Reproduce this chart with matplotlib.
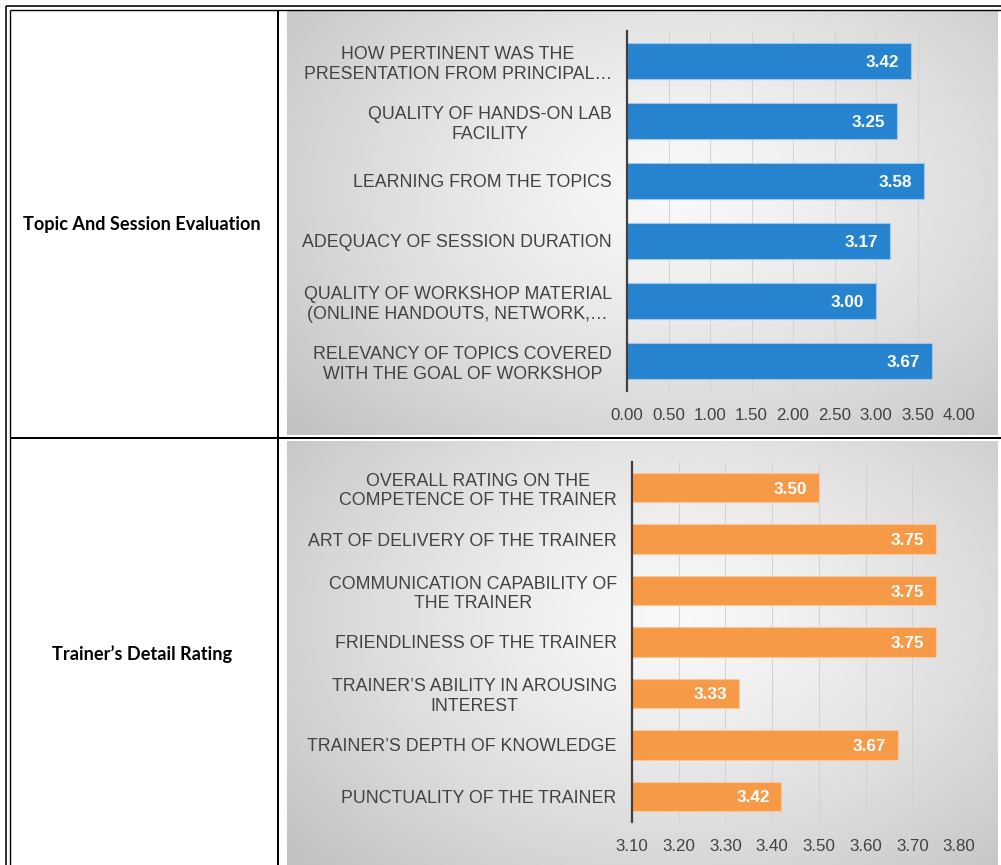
import numpy as np
import matplotlib
matplotlib.use("Agg")
import matplotlib.pyplot as plt
from matplotlib.lines import Line2D

# ---------------- data ----------------
row_titles = ["Topic And Session Evaluation", "Trainer\u2019s Detail Rating"]

topic_categories = [
    "HOW PERTINENT WAS THE\nPRESENTATION FROM PRINCIPAL\u2026",
    "QUALITY OF HANDS-ON LAB\nFACILITY",
    "LEARNING FROM THE TOPICS",
    "ADEQUACY OF SESSION DURATION",
    "QUALITY OF WORKSHOP MATERIAL\n(ONLINE HANDOUTS, NETWORK,\u2026",
    "RELEVANCY OF TOPICS COVERED\nWITH THE GOAL OF WORKSHOP",
]
topic_scores = [3.42, 3.25, 3.58, 3.17, 3.00, 3.67]
topic_ticks = [0.00, 0.50, 1.00, 1.50, 2.00, 2.50, 3.00, 3.50, 4.00]

trainer_categories = [
    "OVERALL RATING ON THE\nCOMPETENCE OF THE TRAINER",
    "ART OF DELIVERY OF THE TRAINER",
    "COMMUNICATION CAPABILITY OF\nTHE TRAINER",
    "FRIENDLINESS OF THE TRAINER",
    "TRAINER\u2019S ABILITY IN AROUSING\nINTEREST",
    "TRAINER\u2019S DEPTH OF KNOWLEDGE",
    "PUNCTUALITY OF THE TRAINER",
]
trainer_scores = [3.50, 3.75, 3.75, 3.75, 3.33, 3.67, 3.42]
trainer_ticks = [3.10, 3.20, 3.30, 3.40, 3.50, 3.60, 3.70, 3.80]

# ---------------- layout helpers ----------------
W, H = 1001, 865
plt.rcParams["font.family"] = ["Liberation Sans", "DejaVu Sans"]
fig = plt.figure(figsize=(W / 100, H / 100), dpi=100)
fig.patch.set_facecolor("white")


def px_rect(x0, y0, x1, y1):
    return [x0 / W, 1 - y1 / H, (x1 - x0) / W, (y1 - y0) / H]


def px_line(x0, y0, x1, y1, lw_px):
    fig.add_artist(Line2D([x0 / W, x1 / W], [1 - y0 / H, 1 - y1 / H],
                          transform=fig.transFigure, color="black",
                          linewidth=lw_px * 0.72, solid_capstyle="butt"))


def gradient_bg(x0, y0, x1, y1):
    ax = fig.add_axes(px_rect(x0, y0, x1, y1), zorder=0)
    ny, nx = 200, 300
    yy, xx = np.mgrid[0:1:ny * 1j, 0:1:nx * 1j]
    d = np.sqrt(((xx - 0.55) / 0.72) ** 2 + ((yy - 0.42) / 0.85) ** 2)
    v = 0.975 - 0.215 * np.clip(d, 0, 1) ** 1.3
    ax.imshow(np.dstack([v, v, v]), aspect="auto", interpolation="bicubic",
              extent=[0, 1, 0, 1])
    ax.set_xlim(0, 1)
    ax.set_ylim(0, 1)
    ax.axis("off")


def bar_chart(rect_px, cats, vals, ticks, color, edge, bar_h, base):
    ax = fig.add_axes(px_rect(*rect_px), zorder=2)
    ax.set_facecolor("none")
    n = len(cats)
    pos = np.arange(n)
    widths = np.array(vals) - base
    ax.barh(pos, widths, left=base, height=bar_h, color=color,
            edgecolor=edge, linewidth=0.8, zorder=3)
    for p, v in zip(pos, vals):
        ax.annotate(f"{v:.2f}", xy=(v, p), xytext=(-8.6, 0),
                    textcoords="offset points", ha="right",
                    va="center_baseline",
                    color="white", fontweight="bold", fontsize=12.3, zorder=4)
    ax.set_ylim(n - 0.5, -0.5)
    ax.set_xlim(ticks[0], ticks[-1])
    ax.set_xticks(ticks)
    ax.set_xticklabels([f"{t:.2f}" for t in ticks], fontsize=12.2)
    ax.set_yticks(pos)
    ax.set_yticklabels(cats, multialignment="center", fontsize=12.75,
                       linespacing=1.2)
    ax.tick_params(axis="both", length=0, labelcolor="#424242")
    ax.tick_params(axis="x", pad=12)
    ax.tick_params(axis="y", pad=11)
    for s in ["top", "right", "bottom"]:
        ax.spines[s].set_visible(False)
    ax.spines["left"].set_color("#404040")
    ax.spines["left"].set_linewidth(1.6)
    ax.spines["left"].set_zorder(5)
    ax.grid(axis="x", color="#d2d2d2", linewidth=0.7, zorder=1)
    ax.set_axisbelow(True)
    return ax


# ---------------- backgrounds ----------------
gradient_bg(287, 10, 998, 435)
gradient_bg(287, 441, 998, 865)

# ---------------- charts ----------------
bar_chart((627, 31, 959, 391), topic_categories, topic_scores, topic_ticks,
          "#2683d0", "#9cc8ee", 0.6, 0.0)
bar_chart((632, 462, 959, 822), trainer_categories, trainer_scores,
          trainer_ticks, "#f79a47", "#fbc79a", 0.57, 3.10)

# ---------------- table ----------------
px_line(5.5, 5.5, 1001, 5.5, 1.6)
px_line(5.5, 5.5, 5.5, 865, 1.6)
px_line(9.5, 9.5, 1001, 9.5, 1.4)
px_line(9.5, 9.5, 9.5, 865, 1.4)
px_line(277.5, 9.5, 277.5, 865, 2.0)
px_line(9.5, 438.3, 1001, 438.3, 2.0)

fig.text(142 / W, 1 - 225 / H, row_titles[0], ha="center", va="center",
         fontsize=13.1, fontweight="bold", family=["Lato", "DejaVu Sans"])
fig.text(142 / W, 1 - 654 / H, row_titles[1], ha="center", va="center",
         fontsize=13.1, fontweight="bold", family=["Lato", "DejaVu Sans"])

fig.savefig("out.png", dpi=100, facecolor="white")
